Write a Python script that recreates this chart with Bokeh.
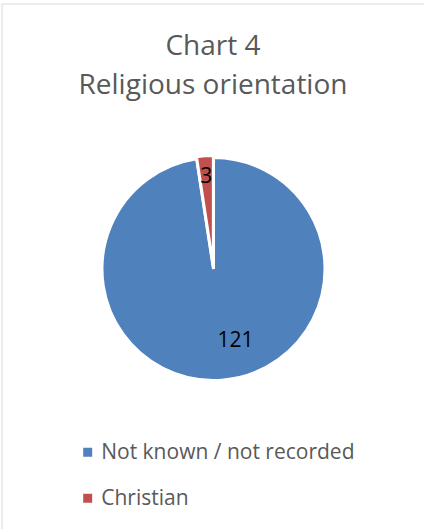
import math
from bokeh.plotting import figure
from bokeh.models import Range1d, ColumnDataSource
from bokeh.core.properties import value
from bokeh.embed import file_html
from bokeh.resources import INLINE

# ---- data ----
title_lines = ["Chart 4", "Religious orientation"]
categories = ["Not known / not recorded", "Christian"]
counts = [121, 3]
colors = ["#4F81BD", "#C0504D"]
explode = [0, 2]

W, H = 424, 529
FONT = "Open Sans"
GREY = "#595959"

p = figure(width=W, height=H, output_backend="svg", toolbar_location=None,
           x_range=Range1d(0, W), y_range=Range1d(0, H), min_border=0)
p.axis.visible = False
p.grid.visible = False
p.outline_line_color = None
p.background_fill_color = "white"
p.border_fill_color = "white"

def Y(py):
    return H - py

# chart border (left and top edges visible)
p.line([1.5, 1.5], [Y(3.5), 0], line_color="#d9d9d9", line_width=1)
p.line([1.5, W], [Y(3.5), Y(3.5)], line_color="#d9d9d9", line_width=1)

# title
p.text(x=[212.5, 212.5], y=[Y(43.5), Y(82.3)], text=title_lines,
       text_font=value(FONT), text_font_size="28px", text_color=GREY,
       text_align="center", text_baseline="middle")

# pie
cx, cy, R = 213.0, Y(268.5), 111.5
total = sum(counts)
start = math.pi / 2
starts, ends, xs, ys = [], [], [], []
for c, e in zip(counts, explode):
    sweep = 2 * math.pi * c / total
    end = start - sweep
    mid = (start + end) / 2
    starts.append(end)
    ends.append(start)
    xs.append(cx + e * math.cos(mid))
    ys.append(cy + e * math.sin(mid))
    start = end

src = ColumnDataSource(dict(x=xs, y=ys, s=starts, e=ends, color=colors))
p.wedge(x="x", y="y", radius=R, start_angle="s", end_angle="e",
        fill_color="color", line_color="white", line_width=3, source=src)

# data labels (positions relative to pie centre)
label_angle_deg = [-72.4, 94.46]
label_radius = [73, 93.8]
lx = [cx + r * math.cos(math.radians(a)) for r, a in zip(label_radius, label_angle_deg)]
ly = [cy + r * math.sin(math.radians(a)) for r, a in zip(label_radius, label_angle_deg)]
p.text(x=lx, y=ly, text=[str(c) for c in counts],
       text_font=value(FONT), text_font_size="21px", text_color="black",
       text_align="center", text_baseline="middle")

# legend
leg_y = [Y(451.7), Y(497.7)]
p.rect(x=[87.2, 87.2], y=leg_y, width=9, height=9, fill_color=colors, line_color=None)
p.text(x=[100.7, 100.7], y=[Y(450.3), Y(496.7)], text=categories,
       text_font=value(FONT), text_font_size="21px", text_color=GREY,
       text_align="left", text_baseline="middle")

open("out.html", "w").write(file_html(p, INLINE))
